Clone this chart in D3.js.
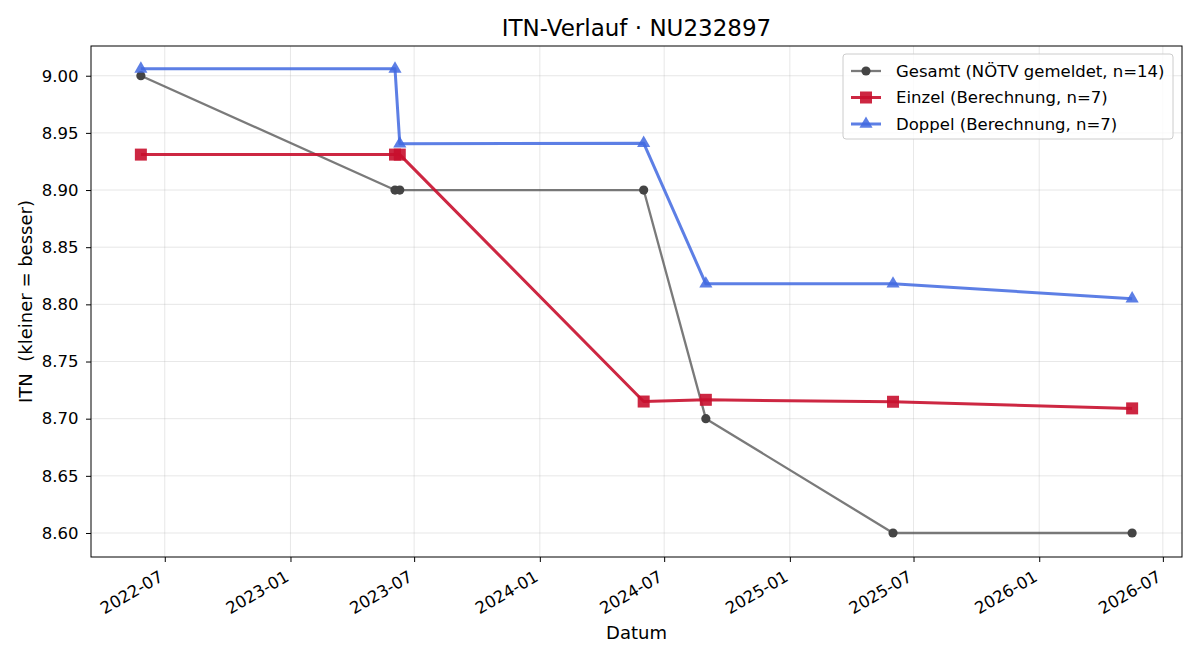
<!DOCTYPE html>
<html>
<head>
<meta charset="utf-8">
<script src="https://cdn.jsdelivr.net/npm/d3@7"></script>
<style>
  body { margin: 0; background: #fff; }
  svg text { font-family: "DejaVu Sans", sans-serif; fill: #000; white-space: pre; }
</style>
</head>
<body>
<div class="plot"></div>
<script>
// data
var dates = ['2022-05-27','2023-06-03','2023-06-10','2024-06-01','2024-08-31','2025-06-01','2026-05-17'];
var gesamt = [9.00, 8.90, 8.90, 8.90, 8.70, 8.60, 8.60];
var einzel = [8.931, 8.931, 8.931, 8.715, 8.7165, 8.7148, 8.709];
var doppel = [9.006, 9.006, 8.9405, 8.941, 8.818, 8.818, 8.805];
var yTicks = [8.60, 8.65, 8.70, 8.75, 8.80, 8.85, 8.90, 8.95, 9.00];
var xTicks = ['2022-07-01','2023-01-01','2023-07-01','2024-01-01','2024-07-01','2025-01-01','2025-07-01','2026-01-01','2026-07-01'];

var parse = d3.timeParse('%Y-%m-%d');

var series = [
  {name:'Gesamt (NÖTV gemeldet, n=14)', vals:gesamt, line:'#555', lineOp:0.78, mark:'#444', shape:'circle'},
  {name:'Einzel (Berechnung, n=7)', vals:einzel, line:'#c8102e', lineOp:0.9, mark:'#c8102e', shape:'square'},
  {name:'Doppel (Berechnung, n=7)', vals:doppel, line:'#4169e1', lineOp:0.85, mark:'#4169e1', shape:'triangle'}
];

var W = 1200, H = 660;
var m = {t:46, r:18, b:103, l:91},
    w = W - m.l - m.r,
    h = H - m.t - m.b;

var svg = d3.select('.plot').append('svg')
    .attr('width', W).attr('height', H);

var x = d3.scaleTime()
    .domain([parse('2022-03-15'), parse('2026-07-29')])
    .range([0, w]);
var y = d3.scaleLinear()
    .domain([8.579, 9.026])
    .range([h, 0]);

var g = svg.append('g').attr('transform','translate('+m.l+','+m.t+')');

// grid
g.append('g').selectAll('line').data(xTicks).enter().append('line')
    .attr('x1', function(d){return x(parse(d))}).attr('x2', function(d){return x(parse(d))})
    .attr('y1', 0).attr('y2', h)
    .attr('stroke','#b0b0b0').attr('stroke-opacity',0.3).attr('stroke-width',1);
g.append('g').selectAll('line').data(yTicks).enter().append('line')
    .attr('y1', function(d){return y(d)}).attr('y2', function(d){return y(d)})
    .attr('x1', 0).attr('x2', w)
    .attr('stroke','#b0b0b0').attr('stroke-opacity',0.3).attr('stroke-width',1);

// axes
var xAxis = g.append('g').attr('transform','translate(0,'+h+')')
    .call(d3.axisBottom(x).tickValues(xTicks.map(parse)).tickFormat(d3.timeFormat('%Y-%m')).tickSizeOuter(0).tickSize(5));
xAxis.selectAll('text')
    .style('font-size','16.5px')
    .attr('text-anchor','end')
    .attr('x',0).attr('y',0).attr('dy',0)
    .attr('transform','translate(-1,23) rotate(-30)');
var yAxis = g.append('g')
    .call(d3.axisLeft(y).tickValues(yTicks).tickFormat(d3.format('.2f')).tickSizeOuter(0).tickSize(5));
yAxis.selectAll('text').style('font-size','16.5px').attr('x',-12.5);
svg.selectAll('.domain').remove();
svg.selectAll('.tick line').attr('stroke','#000').attr('stroke-width',1);

g.append('rect').attr('width',w).attr('height',h)
    .attr('fill','none').attr('stroke','#000').attr('stroke-width',1);

// lines + markers
var line = d3.line()
    .x(function(d,i){return x(parse(dates[i]))})
    .y(function(d){return y(d)});

function drawMark(sel, shape, color, cx, cy){
  if (shape === 'circle') {
    sel.append('circle').attr('cx',cx).attr('cy',cy).attr('r',4.6).attr('fill',color);
  } else if (shape === 'square') {
    sel.append('rect').attr('x',cx-6).attr('y',cy-6).attr('width',12).attr('height',12)
       .attr('fill',color).attr('fill-opacity',0.9);
  } else {
    sel.append('path').attr('transform','translate('+cx+','+cy+')')
       .attr('d', d3.symbol().type(d3.symbolTriangle).size(75)())
       .attr('fill',color).attr('fill-opacity',0.85);
  }
}

series.forEach(function(s){
  g.append('path').datum(s.vals).attr('d', line)
      .attr('fill','none').attr('stroke',s.line).attr('stroke-opacity',s.lineOp)
      .attr('stroke-width', s.shape==='circle' ? 2.3 : 3)
      .attr('stroke-linejoin','round');
  var mg = g.append('g');
  s.vals.forEach(function(v,i){
    drawMark(mg, s.shape, s.mark, x(parse(dates[i])), y(v));
  });
});

// title and labels
svg.append('text').attr('x', m.l + w/2).attr('y', 36).attr('text-anchor','middle')
    .style('font-size','23px').text('ITN-Verlauf · NU232897');
svg.append('text').attr('x', m.l + w/2).attr('y', 639).attr('text-anchor','middle')
    .style('font-size','18px').text('Datum');
svg.append('text').attr('transform','translate(32,'+(m.t+h/2)+') rotate(-90)')
    .attr('text-anchor','middle').style('font-size','18px').text('ITN  (kleiner = besser)');

// legend
var lg = svg.append('g').attr('transform','translate(843,54)');
lg.append('rect').attr('width',330).attr('height',85).attr('rx',3)
    .attr('fill','#fff').attr('fill-opacity',0.8).attr('stroke','#ccc');
series.forEach(function(s,i){
  var yy = 17 + i*26.5;
  lg.append('line').attr('x1',8).attr('x2',38).attr('y1',yy).attr('y2',yy)
      .attr('stroke',s.line).attr('stroke-opacity',s.lineOp)
      .attr('stroke-width', s.shape==='circle' ? 2.3 : 3);
  drawMark(lg, s.shape, s.mark, 23, yy);
  lg.append('text').attr('x',53).attr('y',yy).attr('dy','0.35em')
      .style('font-size','16.5px').text(s.name);
});
</script>
</body>
</html>
